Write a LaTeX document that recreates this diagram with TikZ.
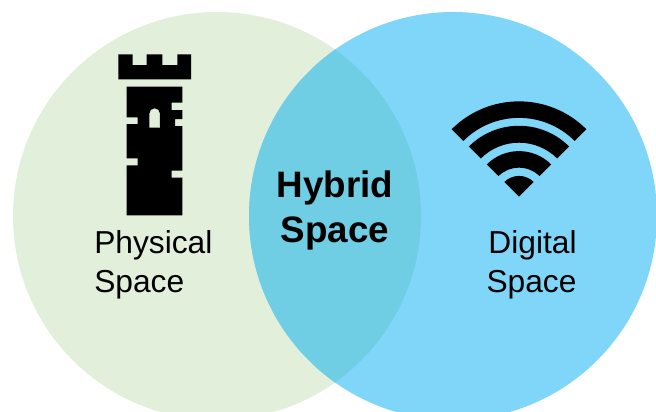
\documentclass[tikz,border=0pt]{standalone}
\usepackage{fontspec}
\setmainfont{Liberation Sans}
\usetikzlibrary{calc}
\definecolor{leftc}{HTML}{E2EFDA}
\definecolor{rightc}{HTML}{7FD6F9}
\definecolor{midc}{HTML}{6FCDE4}
\tikzset{
  lab/.style={inner sep=0pt,font=\fontsize{23.8pt}{28pt}\selectfont,text=black},
  hyb/.style={inner sep=0pt,font=\fontsize{27.6pt}{32pt}\selectfont\bfseries,text=black},
  glyph/.style={fill=black,draw=none}
}
\begin{document}
\begin{tikzpicture}[x=0.75pt,y=-0.75pt]
\useasboundingbox (0,0) rectangle (656,411);
\begin{scope}
\clip (0,0) rectangle (656,411);
\fill[leftc] (217,216) circle[radius=153pt];
\fill[rightc] (453,216) circle[radius=153pt];
\begin{scope}
\clip (217,216) circle[radius=153pt];
\fill[midc] (453,216) circle[radius=153pt];
\end{scope}
\end{scope}
% tower top
\fill[glyph] (118.3,54.3) -- (132.7,54.3) -- (132.7,65) -- (146.7,65) -- (146.7,54.3) -- (162.3,54.3) -- (162.3,65) -- (177.3,65) -- (177.3,54.3) -- (191,54.3) -- (191,79.3) -- (118.3,79.3) -- cycle;
% tower body
\fill[glyph,even odd rule] (126.7,86.7) -- (182.3,86.7) -- (182.3,102.7) -- (171.7,102.7) -- (171.7,110) -- (182.3,110) -- (182.3,119) -- (175,119) -- (175,126) -- (182.3,126) -- (182.3,170.7) -- (171.7,170.7) -- (171.7,177.7) -- (182.3,177.7) -- (182.3,215.3) -- (126.7,215.3) -- (126.7,165.3) -- (137.7,165.3) -- (137.7,158.3) -- (126.7,158.3) -- (126.7,124) -- (137.7,124) -- (137.7,117.3) -- (126.7,117.3) -- cycle
 (149.3,127.7) -- (149.3,113.6) arc[start angle=180,end angle=0,radius=4pt] -- (160,127.7) -- cycle;
% wifi
\coordinate (tip) at (519,196.7);
\fill[glyph] (tip) -- ($(tip)+(135:15.6pt)$) arc[start angle=135,end angle=45,radius=15.6pt] -- cycle;
\fill[glyph] ($(tip)+(135:34.2pt)$) arc[start angle=135,end angle=45,radius=34.2pt] -- ($(tip)+(45:21.8pt)$) arc[start angle=45,end angle=135,radius=21.8pt] -- cycle;
\fill[glyph] ($(tip)+(135:53.2pt)$) arc[start angle=135,end angle=45,radius=53.2pt] -- ($(tip)+(45:40.5pt)$) arc[start angle=45,end angle=135,radius=40.5pt] -- cycle;
\fill[glyph] ($(tip)+(135:71.5pt)$) arc[start angle=135,end angle=45,radius=71.5pt] -- ($(tip)+(45:59.1pt)$) arc[start angle=45,end angle=135,radius=59.1pt] -- cycle;
% labels
\node[lab,anchor=base west] (phys1) at (94,253) {Physical};
\node[lab,anchor=base west] (phys2) at (94,292) {Space};
\node[lab,anchor=base] (dig1) at (532.5,253) {Digital};
\node[lab,anchor=base] (dig2) at (531.5,292) {Space};
\node[hyb,anchor=base] (hyb1) at (335,197) {Hybrid};
\node[hyb,anchor=base] (hyb2) at (335,242) {Space};
\end{tikzpicture}
\end{document}
